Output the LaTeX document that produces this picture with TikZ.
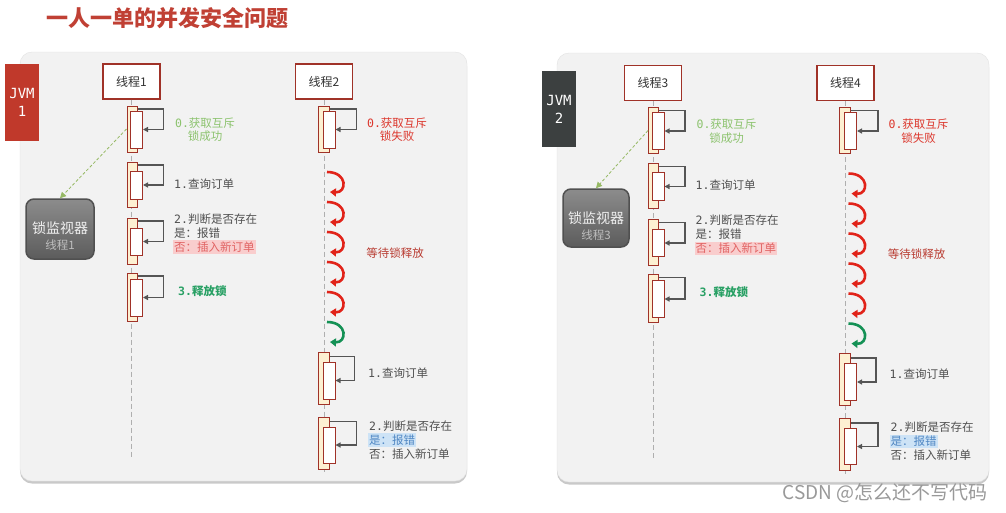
\documentclass[tikz,border=0pt]{standalone}
\usepackage{fontspec}
\setmainfont{Noto Sans CJK SC}
\newfontfamily\monof{DejaVu Sans Mono}
\usepackage{tikz}
\usetikzlibrary{arrows.meta, positioning, shadows}

\definecolor{titred}{RGB}{192,64,52}
\definecolor{panelbg}{RGB}{242,242,242}
\definecolor{panelline}{RGB}{226,226,226}
\definecolor{jvmred}{RGB}{192,57,43}
\definecolor{jvmdark}{RGB}{60,64,64}
\definecolor{actline}{RGB}{160,50,40}
\definecolor{actfill}{RGB}{253,240,210}
\definecolor{arrgray}{RGB}{85,85,85}
\definecolor{lifegray}{RGB}{175,175,175}
\definecolor{txtgray}{RGB}{80,80,80}
\definecolor{txtdark}{RGB}{51,51,51}
\definecolor{okgreen}{RGB}{140,195,110}
\definecolor{failred}{RGB}{220,55,45}
\definecolor{waitred}{RGB}{185,60,50}
\definecolor{relgreen}{RGB}{40,160,100}
\definecolor{curlred}{RGB}{225,35,25}
\definecolor{curlgreen}{RGB}{20,145,85}
\definecolor{pinkbg}{RGB}{249,205,205}
\definecolor{pinktxt}{RGB}{225,100,100}
\definecolor{bluebg}{RGB}{205,227,246}
\definecolor{bluetxt}{RGB}{80,135,195}
\definecolor{monline}{RGB}{80,80,80}
\definecolor{montop}{RGB}{140,140,140}
\definecolor{monbot}{RGB}{92,92,92}
\definecolor{montext}{RGB}{240,240,240}
\definecolor{monsub}{RGB}{190,190,190}
\definecolor{lockgreen}{RGB}{150,185,100}

\begin{document}
\begin{tikzpicture}[
    x=1pt, y=-1pt,
    every node/.style={font=\fontsize{11.5}{13.5}\selectfont},
    panel/.style={draw=panelline, fill=panelbg, rounded corners=12pt, inner sep=0pt,
        drop shadow={shadow xshift=0pt, shadow yshift=-2.5pt, opacity=0.35, fill=black!60}},
    jvm/.style={minimum width=34pt, minimum height=77pt, inner sep=0pt, text=white,
        align=center, font=\monof\fontsize{14}{18}\selectfont},
    thr/.style={draw=actline, fill=white, line width=1.2pt, minimum width=57pt,
        minimum height=35pt, inner sep=0pt, text=txtdark, font=\fontsize{12}{14}\selectfont},
    actout/.style={draw=actline, fill=actfill, line width=1pt, minimum width=10pt, inner sep=0pt},
    actin/.style={draw=actline, fill=white, line width=1pt, minimum width=12pt, inner sep=0pt},
    selfarr/.style={draw=arrgray, line width=1.3pt, -{Triangle[length=5pt,width=5pt]}},
    life/.style={draw=lifegray, line width=0.8pt, dash pattern=on 5pt off 3pt},
    curl/.style={line width=2.6pt, -{Triangle[length=6pt,width=8pt]}},
    lbl/.style={text=txtgray, inner xsep=1pt, inner ysep=1.5pt},
    monitor/.style={draw=monline, line width=1.5pt, rounded corners=8pt,
        top color=montop, bottom color=monbot, minimum width=68pt, minimum height=60pt},
    lockarr/.style={draw=lockgreen, line width=0.8pt, dash pattern=on 3pt off 2pt,
        -{Triangle[length=6pt,width=6pt]}}
]
\fill[white] (0,0) rectangle (1006,512);
\useasboundingbox (0,0) rectangle (1006,512);

% Title
\node[anchor=west, text=titred, font=\bfseries\fontsize{22}{26}\selectfont] (ttl) at (43,18) {一人一单的并发安全问题};

% Panels
\node[panel, minimum width=447pt, minimum height=429pt] (pan1) at (243.5,266.5) {};
\node[panel, minimum width=432pt, minimum height=429pt] (pan2) at (773,267.5) {};

% JVM tags
\node[jvm, fill=jvmred] (jvm1) at (22,102.5) {JVM\\1};
\node[jvm, fill=jvmdark, minimum height=76pt] (jvm2) at (559,109) {JVM\\2};

% Both panels share the thread layout
\foreach \dx/\dy/\ta/\tb in {0/0/1/2, 521.5/1.5/3/4} {
\begin{scope}[shift={(\dx,\dy)}]
    % Thread heads and lifelines
    \node[thr] (th\ta) at (131.5,81.5) {线程\ta};
    \node[thr] (th\tb) at (324,81.5) {线程\tb};
    \coordinate (end\ta) at (131.5,459);
    \coordinate (end\tb) at (324,472);
    \draw[life] (th\ta.south) -- (end\ta);
    \draw[life] (th\tb.south) -- (end\tb);

    % Left thread: gets the lock
    \node[actout, minimum height=46pt] (o\ta-0) at (132,129) {};
    \node[actin, minimum height=37pt] (i\ta-0) at (136.5,129.5) {};
    \node[actout, minimum height=45pt] (o\ta-1) at (132,184.5) {};
    \node[actin, minimum height=28pt] (i\ta-1) at (136.5,185) {};
    \node[actout, minimum height=46pt] (o\ta-2) at (132,241) {};
    \node[actin, minimum height=27pt] (i\ta-2) at (136.5,241.5) {};
    \node[actout, minimum height=48pt] (o\ta-3) at (132,297) {};
    \node[actin, minimum height=37pt] (i\ta-3) at (136.5,297.5) {};
    \draw[selfarr] ([yshift=-3.5pt]o\ta-0.north east) -- ++(26,0) |- (i\ta-0.east);
    \draw[selfarr] ([yshift=-3.5pt]o\ta-1.north east) -- ++(26,0) |- (i\ta-1.east);
    \draw[selfarr] ([yshift=-3.5pt]o\ta-2.north east) -- ++(26,0) |- (i\ta-2.east);
    \draw[selfarr] ([yshift=-3.5pt]o\ta-3.north east) -- ++(26,0) |- (i\ta-3.east);

    \node[lbl, text=okgreen, align=center] (q\ta-0) at (205,129.5) {{\monof 0.}获取互斥\\锁成功};
    \node[lbl, anchor=west] (q\ta-1) at (173,184) {{\monof 1.}查询订单};
    \node[lbl, anchor=west] (q\ta-2a) at (173,219) {{\monof 2.}判断是否存在};
    \node[lbl, anchor=north west] (q\ta-2b) at (q\ta-2a.south west) {是：报错};
    \node[lbl, anchor=north west, fill=pinkbg, text=pinktxt] (q\ta-2c) at (q\ta-2b.south west) {否：插入新订单};
    \node[lbl, anchor=west, text=relgreen, font=\bfseries\fontsize{11.5}{13.5}\selectfont] (q\ta-3) at (177,291) {{\monof 3.}释放锁};

    % Right thread: fails, waits, then runs
    \node[actout, minimum height=46pt, minimum width=11pt] (o\tb-0) at (323.5,129) {};
    \node[actin, minimum height=37pt] (i\tb-0) at (329,129.5) {};
    \node[actout, minimum height=52pt, minimum width=11pt] (o\tb-1) at (323.5,378) {};
    \node[actin, minimum height=37pt] (i\tb-1) at (329,380.5) {};
    \node[actout, minimum height=52pt, minimum width=11pt] (o\tb-2) at (323.5,443) {};
    \node[actin, minimum height=36pt] (i\tb-2) at (329,445) {};
    \draw[selfarr] ([yshift=-3.5pt]o\tb-0.north east) -- ++(27,0) |- (i\tb-0.east);
    \draw[selfarr] ([yshift=-5pt]o\tb-1.north east) -- ++(25,0) |- (i\tb-1.east);
    \draw[selfarr] ([yshift=-5pt]o\tb-2.north east) -- ++(27,0) |- (i\tb-2.east);

    \node[lbl, text=failred, align=center] (q\tb-0) at (397,129.5) {{\monof 0.}获取互斥\\锁失败};
    \node[lbl, text=waitred] (wait\tb) at (395,253) {等待锁释放};
    \node[lbl, anchor=west] (q\tb-1) at (367,373) {{\monof 1.}查询订单};
    \node[lbl, anchor=west] (q\tb-2a) at (368,426) {{\monof 2.}判断是否存在};
    \node[lbl, anchor=north west, fill=bluebg, text=bluetxt] (q\tb-2b) at (q\tb-2a.south west) {是：报错};
    \node[lbl, anchor=north west] (q\tb-2c) at (q\tb-2b.south west) {否：插入新订单};

    % Waiting curls
    \foreach \k in {0,...,4}
        \draw[curl, curlred] (327,{172+30*\k}) .. controls +(21,0) and +(17,1) .. (330,{192+30*\k});
    \draw[curl, curlgreen] (327,322) .. controls +(21,0) and +(17,1) .. (330,342);
\end{scope}
}

% Lock monitors
\node[monitor] (mon1) at (60,229) {};
\node[text=montext, font=\fontsize{14}{16}\selectfont, inner sep=1pt] (mon1a) at ([yshift=1pt]mon1.center) {锁监视器};
\node[text=monsub, below=3pt of mon1a, inner sep=1pt] (mon1b) {线程1};
\node[monitor, minimum width=66pt, minimum height=58pt] (mon2) at (596,218) {};
\node[text=montext, font=\fontsize{14}{16}\selectfont, inner sep=1pt] (mon2a) at (mon2.center) {锁监视器};
\node[text=monsub, below=3pt of mon2a, inner sep=1pt] (mon2b) {线程3};
\draw[lockarr] (o1-0.west) -- (mon1.north);
\draw[lockarr] (o3-0.west) -- (mon2.north);

% Watermark
\node[anchor=east, text=black!40, font=\fontsize{19}{21}\selectfont] (wm) at (991,493) {CSDN @怎么还不写代码};

\end{tikzpicture}
\end{document}
